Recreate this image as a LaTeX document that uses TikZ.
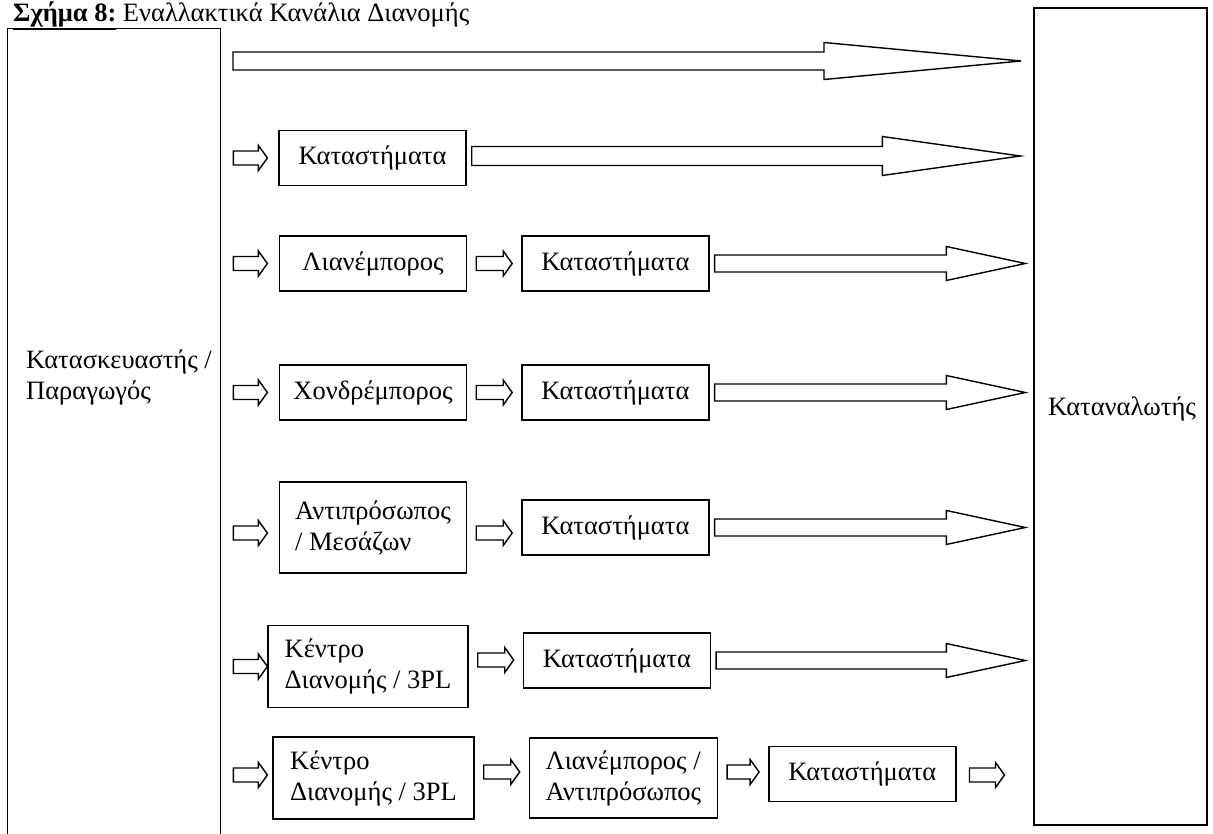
\documentclass[tikz,border=0pt]{standalone}
\usepackage{fontspec}
\setmainfont{Liberation Serif}
\usetikzlibrary{positioning,calc}

% hollow block arrow: from, to, shaft half width, head half width, head length
\newcommand{\blockarrow}[5]{%
  \draw[fat] let \p1=#1, \p2=#2 in
    (\x1,\y1+#3) -- (\x2-#5,\y1+#3) -- (\x2-#5,\y1+#4) -- (\x2,\y1)
    -- (\x2-#5,\y1-#4) -- (\x2-#5,\y1-#3) -- (\x1,\y1-#3) -- cycle;}
\newcommand{\smallarrow}[2]{\blockarrow{#1}{#2}{7pt}{12.5pt}{9pt}}
\newcommand{\bigarrow}[2]{\blockarrow{#1}{#2}{8.5pt}{17pt}{79pt}}

\begin{document}
\begin{tikzpicture}[
    x=1pt, y=-1pt,
    font=\fontsize{26.5}{31}\selectfont,
    box/.style={draw, line width=1.4pt, align=left, minimum width=187pt, minimum height=55pt, inner sep=0pt},
    tallbox/.style={box, minimum height=82pt},
    fat/.style={draw, line width=1.4pt, line join=miter},
    node distance=54pt
  ]
  \useasboundingbox (0,0) rectangle (1213,834);

  \node[anchor=base west, inner sep=0pt] (title) at (13,22) {\underline{\textbf{Σχήμα 8:}} Εναλλακτικά Κανάλια Διανομής};

  % producer and consumer
  \node[draw, line width=1.4pt, anchor=north west, minimum width=213pt, minimum height=830pt] (prod) at (7,28) {};
  \node[anchor=west, align=left, inner sep=0pt] (prodtxt) at (26,377) {Κατασκευαστής /\\Παραγωγός};
  \node[draw, line width=1.4pt, minimum width=173pt, minimum height=817pt] (cons) at (1120.5,416.5) {};
  \node[anchor=base] (constxt) at (1122,415) {Καταναλωτής};

  % channels
  \node[box, align=center] (k2) at (372.5,158) {Καταστήματα};
  \node[box, align=center] (l3) at (373,263.5) {Λιανέμπορος};
  \node[box, align=center, right=of l3] (k3) {Καταστήματα};
  \node[box, align=center] (w4) at (373,392.5) {Χονδρέμπορος};
  \node[box, align=center, right=of w4] (k4) {Καταστήματα};
  \node[tallbox, minimum height=91pt] (a5) at (373,527.5) {Αντιπρόσωπος\\/ Μεσάζων};
  \node[box, align=center, right=of a5] (k5) {Καταστήματα};
  \node[tallbox, minimum width=200pt] (d6) at (368,666.5) {Κέντρο\\Διανομής / 3PL};
  \node[box, align=center, right=of d6, yshift=6pt] (k6) {Καταστήματα};
  \node[tallbox, minimum width=201pt] (d7) at (373.5,778) {Κέντρο\\Διανομής / 3PL};
  \node[tallbox, minimum width=188pt, minimum height=80pt, right=of d7] (l7) {Λιανέμπορος /\\Αντιπρόσωπος};
  \node[box, align=center, right=50pt of l7, yshift=4pt] (k7) {Καταστήματα};

  % free ends
  \coordinate (r1) at (233,61);
  \coordinate (t1) at (1021,61);
  \coordinate (t2) at ($(cons.west |- k2.east)+(-13,-2)$);
  \coordinate (e7) at ($(k7.east)+(48,1)$);

  % big arrows
  \blockarrow{(r1)}{(t1)}{9pt}{18.5pt}{197pt}
  \blockarrow{($(k2.east)+(5,-2)$)}{(t2)}{9.5pt}{19.5pt}{138pt}
  \foreach \k in {k3,k4,k5,k6}
    \bigarrow{($(\k.east)+(5,0)$)}{($(cons.west |- \k.east)+(-8,0)$)};

  % small arrows
  \foreach \q/\dy in {k2/0,l3/0,w4/0,a5/5.5,d6/0,d7/-3}
    \smallarrow{($(prod.east |- \q.west)+(12,\dy)$)}{($(prod.east |- \q.west)+(46,\dy)$)};
  \foreach \u/\v/\dy in {l3/k3/0,w4/k4/0,a5/k5/5.5,d6/k6/-6.5,d7/l7/-6,l7/k7/-6}
    \smallarrow{($(\u.east)+(9,\dy)$)}{($(\v.west |- \u.east)+(-9,\dy)$)};
  \smallarrow{($(k7.east)+(13,1)$)}{(e7)}
\end{tikzpicture}
\end{document}
